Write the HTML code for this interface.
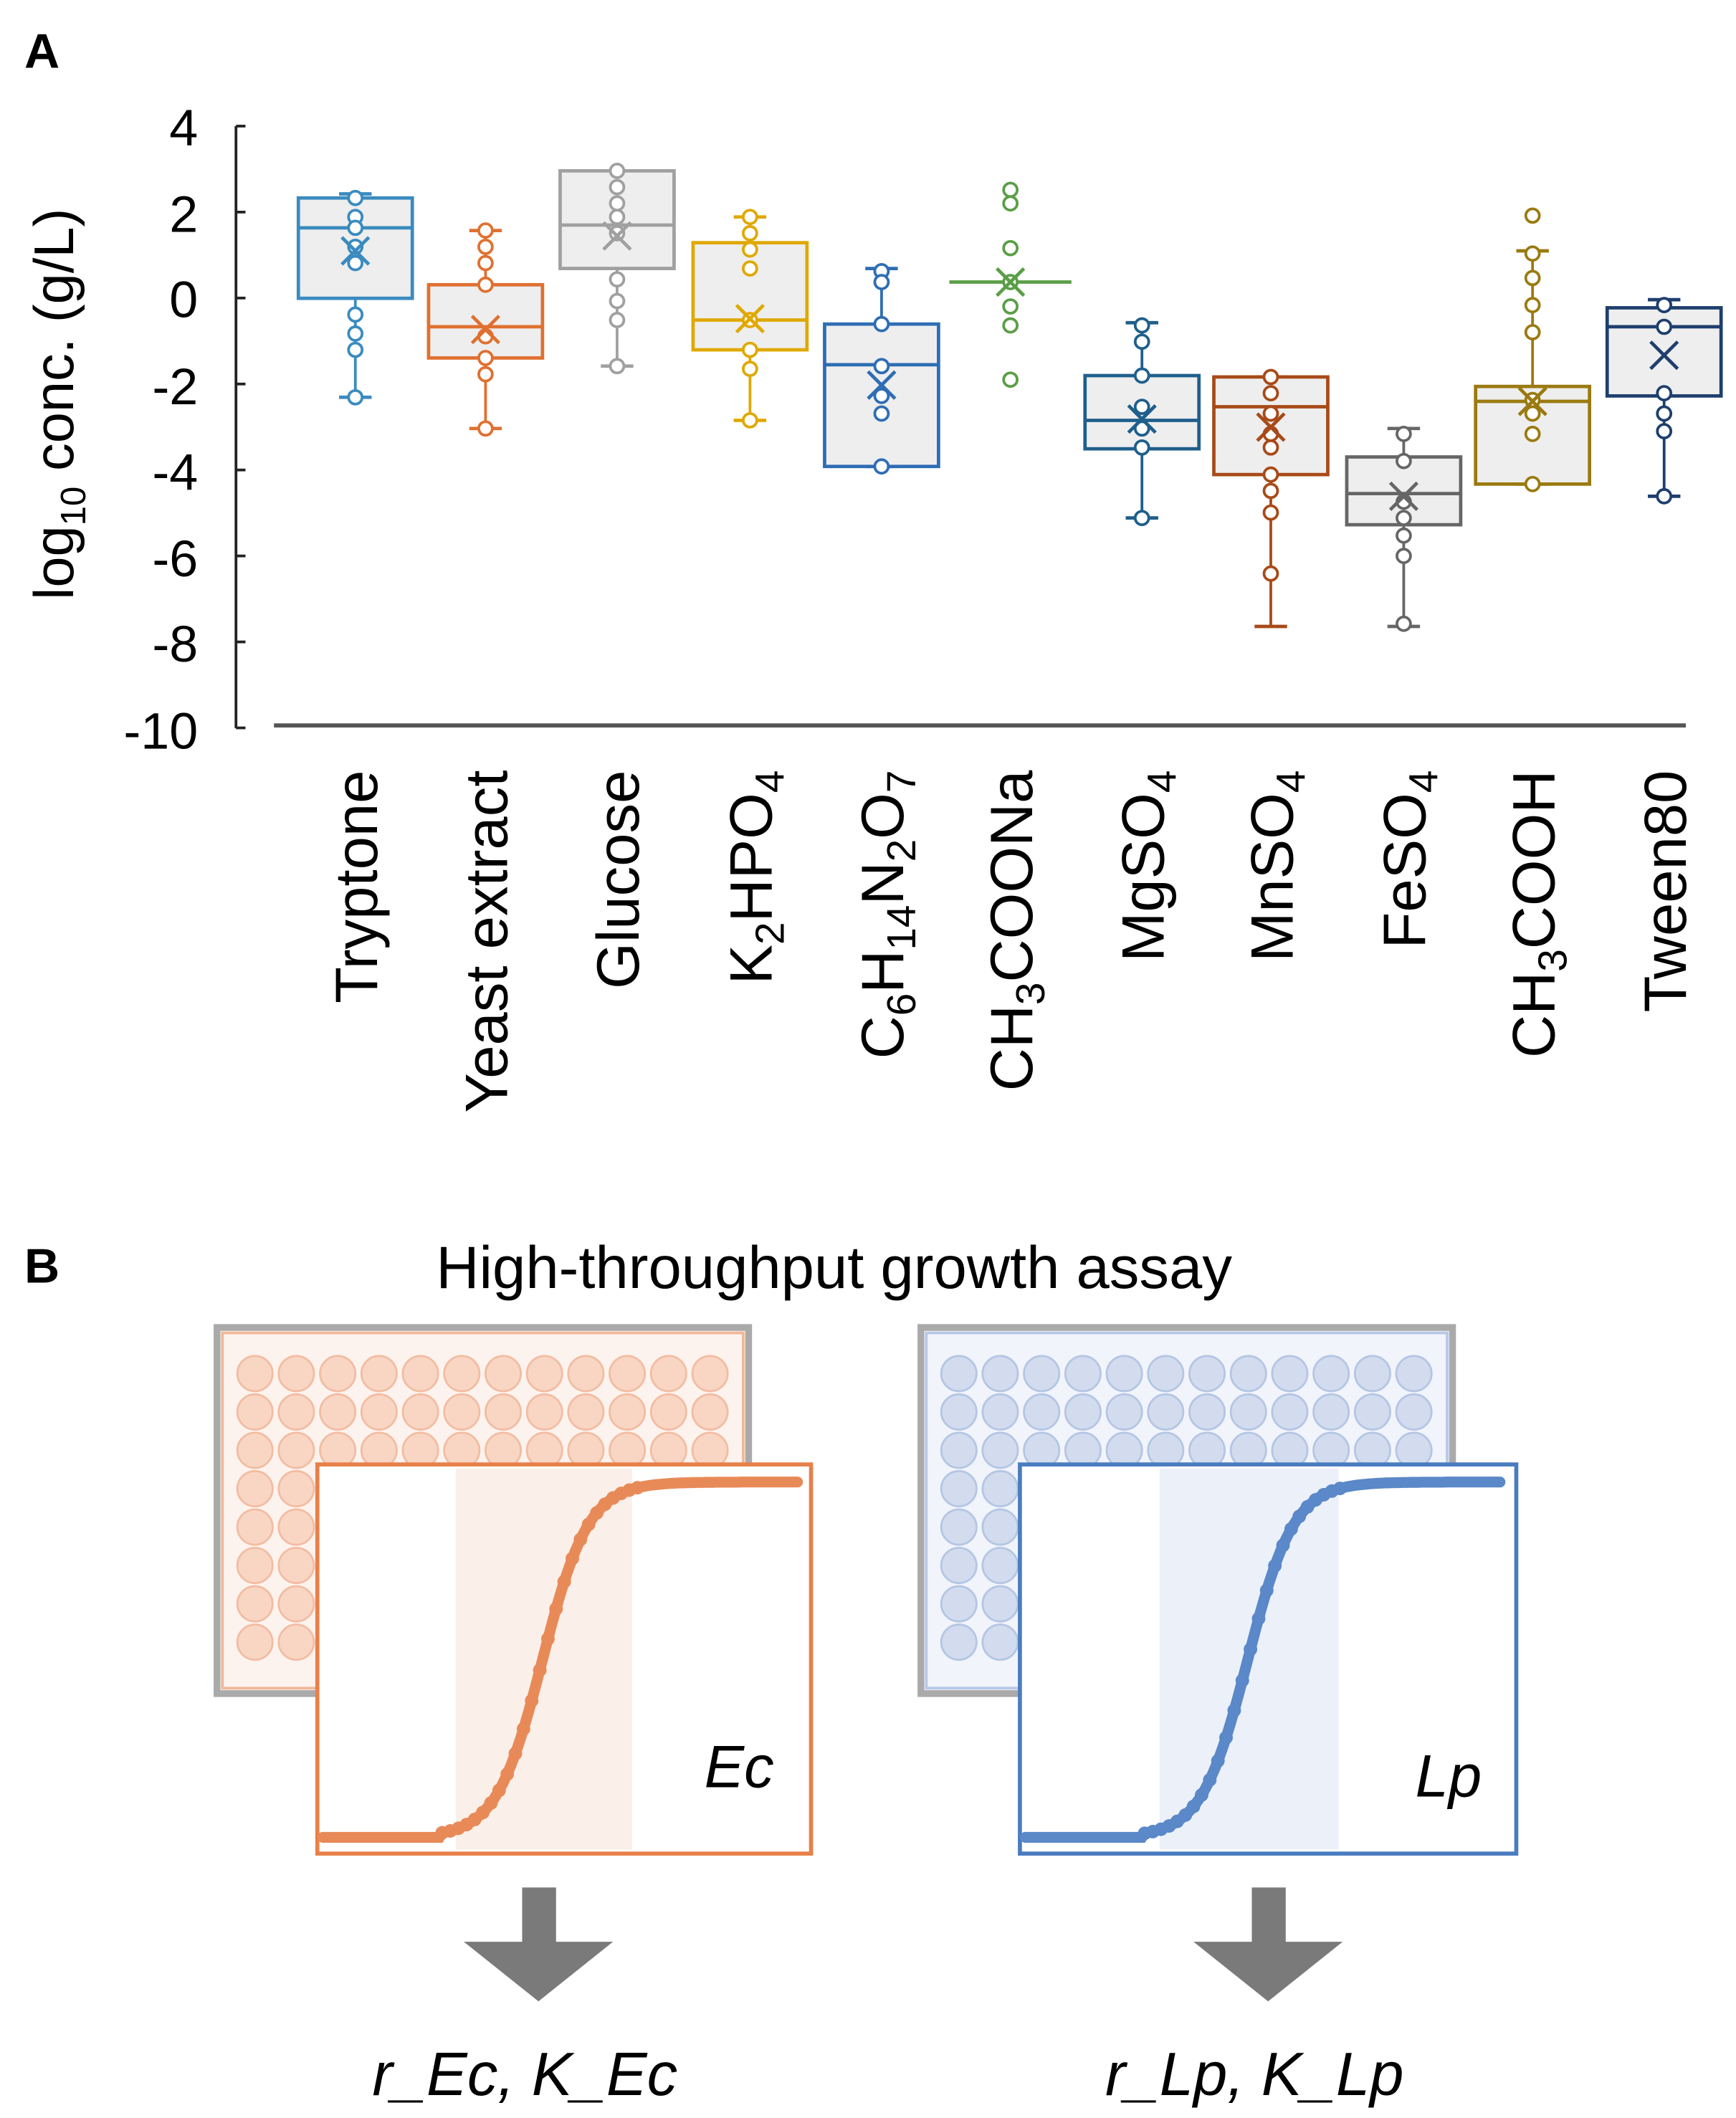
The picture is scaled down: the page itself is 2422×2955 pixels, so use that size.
<!DOCTYPE html>
<html><head><meta charset="utf-8"><style>html,body{margin:0;padding:0;background:#fff}svg{display:block}text{font-family:"Liberation Sans",Arial,sans-serif}</style></head>
<body>
<svg id="s" width="2422" height="2955" viewBox="0 0 1280 1562" preserveAspectRatio="none" xmlns="http://www.w3.org/2000/svg">
<text x="18" y="50" font-size="36" font-weight="bold">A</text>
<line x1="174" y1="93" x2="174" y2="537" stroke="#222" stroke-width="2"/>
<g id="ticks"></g>
<g font-size="38" text-anchor="end">
<text x="146" y="107">4</text><text x="146" y="171">2</text><text x="146" y="234">0</text><text x="146" y="298">-2</text><text x="146" y="361">-4</text><text x="146" y="425">-6</text><text x="146" y="488">-8</text><text x="146" y="552">-10</text>
</g>
<text transform="translate(54,298) rotate(-90)" font-size="41" text-anchor="middle">log<tspan font-size="26" dy="9">10</tspan><tspan dy="-9"> conc. (g/L)</tspan></text>
<line x1="202" y1="535" x2="1243" y2="535" stroke="#555" stroke-width="3"/>
<g id="boxes"></g>
<g font-size="44" text-anchor="end">
<text transform="translate(278,568) rotate(-90)">Tryptone</text>
<text transform="translate(374,568) rotate(-90)">Yeast extract</text>
<text transform="translate(471,568) rotate(-90)">Glucose</text>
<text transform="translate(569,568) rotate(-90)">K<tspan font-size="30" dy="9">2</tspan><tspan dy="-9">HPO</tspan><tspan font-size="30" dy="9">4</tspan></text>
<text transform="translate(666,568) rotate(-90)">C<tspan font-size="30" dy="9">6</tspan><tspan dy="-9">H</tspan><tspan font-size="30" dy="9">14</tspan><tspan dy="-9">N</tspan><tspan font-size="30" dy="9">2</tspan><tspan dy="-9">O</tspan><tspan font-size="30" dy="9">7</tspan></text>
<text transform="translate(761,568) rotate(-90)">CH<tspan font-size="30" dy="9">3</tspan><tspan dy="-9">COONa</tspan></text>
<text transform="translate(858,568) rotate(-90)">MgSO<tspan font-size="30" dy="9">4</tspan></text>
<text transform="translate(953,568) rotate(-90)">MnSO<tspan font-size="30" dy="9">4</tspan></text>
<text transform="translate(1051,568) rotate(-90)">FeSO<tspan font-size="30" dy="9">4</tspan></text>
<text transform="translate(1146,568) rotate(-90)">CH<tspan font-size="30" dy="9">3</tspan><tspan dy="-9">COOH</tspan></text>
<text transform="translate(1243,568) rotate(-90)">Tween80</text>
</g>
<text x="18" y="946" font-size="36" font-weight="bold">B</text>
<text x="615" y="950" font-size="44" text-anchor="middle">High-throughput growth assay</text>
<rect x="160" y="979" width="392" height="270" fill="#fdf3ee" stroke="#aaa" stroke-width="5"/>
<rect x="164" y="983" width="384" height="262" fill="none" stroke="#f0b898" stroke-width="2"/>
<rect x="679" y="979" width="392" height="270" fill="#f1f4fa" stroke="#aaa" stroke-width="5"/>
<rect x="683" y="983" width="384" height="262" fill="none" stroke="#b8c8e6" stroke-width="2"/>
<g id="wells"></g>
<rect x="234" y="1080" width="364" height="287" fill="#fff" stroke="#e8804a" stroke-width="3"/>
<rect x="336" y="1083" width="130" height="281" fill="#fbefe9"/>
<rect x="752" y="1080" width="366" height="287" fill="#fff" stroke="#4a7cc0" stroke-width="3"/>
<rect x="855" y="1083" width="132" height="281" fill="#ecf0f8"/>
<g id="curves"></g>
<text x="545" y="1318" font-size="44" font-style="italic" text-anchor="middle">Ec</text>
<text x="1068" y="1325" font-size="44" font-style="italic" text-anchor="middle">Lp</text>
<polygon points="385,1392 410,1392 410,1432 452,1432 397,1476 342,1432 385,1432" fill="#7a7a7a"/>
<polygon points="923,1392 948,1392 948,1432 990,1432 935,1476 880,1432 923,1432" fill="#7a7a7a"/>
<text x="387" y="1545" font-size="45" font-style="italic" text-anchor="middle">r_Ec, K_Ec</text>
<text x="925" y="1545" font-size="45" font-style="italic" text-anchor="middle">r_Lp, K_Lp</text>
</svg>
<script>
var NS="http://www.w3.org/2000/svg";
function el(p,t,a){var e=document.createElementNS(NS,t);for(var k in a)e.setAttribute(k,a[k]);p.appendChild(e);return e;}
var tk=document.getElementById("ticks");
for(var i=0;i<8;i++){var y=93+i*63.4;el(tk,"line",{x1:174,y1:y,x2:181,y2:y,stroke:"#222","stroke-width":2});}
var B=document.getElementById("boxes");
var data=[
[262,"#3a8bbf",146,220,168,185,143,293,[146,160,168,182,194,232,246,258,293]],
[358,"#e07030",210,264,241,243,170,316,[170,182,194,210,248,264,276,316]],
[455,"#a0a0a0",126,198,166,174,126,270,[126,138,150,160,172,206,222,236,270]],
[553,"#e0a800",179,258,236,235,160,310,[160,172,184,198,236,258,272,310]],
[650,"#2e6db4",239,344,269,284,198,344,[200,208,239,270,292,305,344]],
[745,"#5a9e46",null,null,208,208,null,null,[140,150,183,208,226,240,280]],
[842,"#1f5f8b",277,331,310,309,238,382,[240,252,277,300,316,330,382]],
[937,"#a84a18",278,350,300,315,278,462,[278,290,305,320,330,350,362,378,423]],
[1035,"#666666",337,387,364,366,316,462,[320,340,370,382,395,410,460]],
[1130,"#9a7a10",285,357,296,296,185,357,[159,187,205,225,245,295,305,320,357]],
[1227,"#1e3f6e",227,292,241,262,221,366,[225,241,290,305,318,366]]];
data.forEach(function(d){var x=d[0],c=d[1];
 if(d[2]!==null){
  el(B,"line",{x1:x,y1:d[6],x2:x,y2:d[7],stroke:c,"stroke-width":2});
  el(B,"line",{x1:x-12,y1:d[6],x2:x+12,y2:d[6],stroke:c,"stroke-width":2.5});
  el(B,"line",{x1:x-12,y1:d[7],x2:x+12,y2:d[7],stroke:c,"stroke-width":2.5});
  el(B,"rect",{x:x-42,y:d[2],width:84,height:d[3]-d[2],fill:"#eeeeee",stroke:c,"stroke-width":2.5});
  el(B,"line",{x1:x-42,y1:d[4],x2:x+42,y2:d[4],stroke:c,"stroke-width":2.5});
 } else {
  el(B,"line",{x1:x-45,y1:d[4],x2:x+45,y2:d[4],stroke:c,"stroke-width":2.5});
 }
 d[8].forEach(function(p){el(B,"circle",{cx:x,cy:p,r:5,fill:"#fff",stroke:c,"stroke-width":2});});
 var m=d[5];el(B,"path",{d:"M"+(x-10)+" "+(m-10)+"L"+(x+10)+" "+(m+10)+"M"+(x+10)+" "+(m-10)+"L"+(x-10)+" "+(m+10),stroke:c,"stroke-width":2.5});
});
var W=document.getElementById("wells");
for(var r=0;r<8;r++)for(var q=0;q<12;q++){
 el(W,"circle",{cx:188+q*30.5,cy:1013+r*28.3,r:13,fill:"#f9d6c4",stroke:"#f2bda3","stroke-width":1.5});
 el(W,"circle",{cx:707+q*30.5,cy:1013+r*28.3,r:13,fill:"#d2dcee",stroke:"#b5c6e4","stroke-width":1.5});
}
var C=document.getElementById("curves");
function f(xm,mid){return 1355-262/(1+Math.exp(-(xm-mid)/17));}
function curve(x0,c,mid){var d="";
 for(var x=x0+4;x<=x0+354;x+=2){var xm=x-x0;var y=xm<91?1355:f(xm,mid);d+=(d?"L":"M")+x+" "+y.toFixed(1);}
 el(C,"path",{d:d,fill:"none",stroke:c,"stroke-width":8,"stroke-linecap":"round"});
 for(var xm=92;xm<240;xm+=6){el(C,"circle",{cx:x0+xm,cy:f(xm,mid),r:5,fill:c});}
}
curve(234,"#e88a58",166);
curve(752,"#5a88c8",168);
</script>
</body></html>
